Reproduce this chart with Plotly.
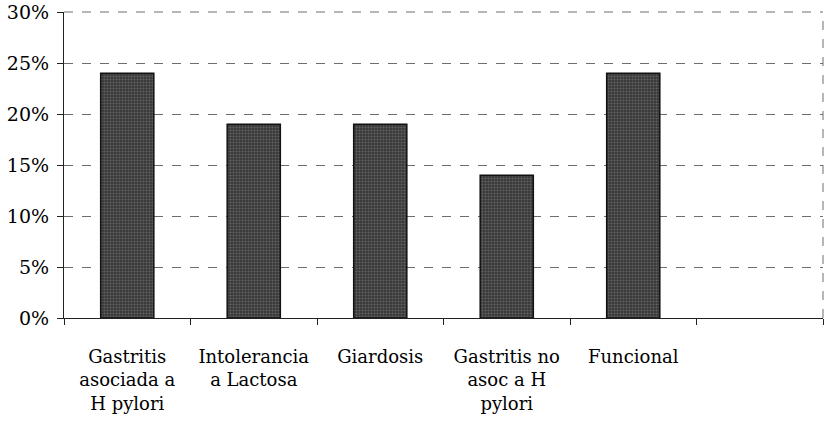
import plotly.graph_objects as go

categories = ["Gastritis<br>asociada a<br>H pylori", "Intolerancia<br>a Lactosa", "Giardosis",
              "Gastritis no<br>asoc a H<br>pylori", "Funcional", " "]
values = [0.24, 0.19, 0.19, 0.14, 0.24, None]
y_ticks = [0, 0.05, 0.10, 0.15, 0.20, 0.25, 0.30]
y_ticklabels = ["0%", "5%", "10%", "15%", "20%", "25%", "30%"]

font_family = "DejaVu Serif"

fig = go.Figure()
fig.add_trace(go.Bar(
    x=categories, y=values,
    marker=dict(
        color="#454545",
        line=dict(color="#111111", width=1.5),
        pattern=dict(shape=".", fgcolor="#8c8c8c", bgcolor="#383838", size=3, solidity=0.4),
    ),
    width=0.42,
    hoverinfo="skip",
))

fig.update_layout(
    width=827, height=437,
    margin=dict(l=64, r=4, t=12, b=119),
    paper_bgcolor="white", plot_bgcolor="white",
    showlegend=False,
    font=dict(family=font_family, size=20, color="#000000"),
    xaxis=dict(
        type="category", categoryorder="array", categoryarray=categories,
        tickmode="array", tickvals=categories, ticktext=categories,
        tickson="boundaries", ticks="outside", ticklen=6, tickcolor="#222",
        showline=True, linecolor="#222", linewidth=1.2,
        showgrid=False, tickfont=dict(family=font_family, size=18, color="#000"),
        range=[-0.5, 5.5], automargin=False, ticklabelstandoff=22,
    ),
    yaxis=dict(
        range=[0, 0.30], tickvals=y_ticks, ticktext=y_ticklabels,
        ticks="outside", ticklen=6, tickcolor="#222",
        showline=True, linecolor="#222", linewidth=1.2,
        showgrid=True, gridcolor="#6e6e6e", gridwidth=1, griddash="dash",
        zeroline=False, tickfont=dict(family=font_family, size=19, color="#000"),
        automargin=False, ticklabelstandoff=4,
    ),
    shapes=[
        dict(type="line", xref="x domain", yref="y domain", x0=1, x1=1, y0=0, y1=1,
             line=dict(color="#6e6e6e", width=1, dash="dash")),
        dict(type="line", xref="x domain", yref="y domain", x0=0, x1=1, y0=1, y1=1,
             line=dict(color="#6e6e6e", width=1, dash="dash")),
    ],
)

fig.write_html(
    "out.html",
    config={"responsive": False, "displayModeBar": False},
    post_script="document.body.style.margin='0';document.body.style.overflow='hidden';",
)
